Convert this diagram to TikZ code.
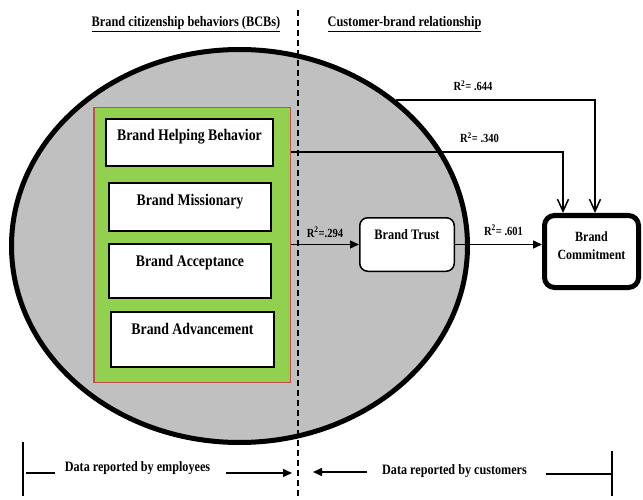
\documentclass[tikz,border=0pt]{standalone}
\usepackage{fontspec}
\setmainfont{Liberation Serif}[FakeStretch=0.85]
\usetikzlibrary{positioning,arrows.meta,shapes.geometric}
\definecolor{ovalgray}{HTML}{C0C0C0}
\definecolor{bcbgreen}{HTML}{92D050}
\definecolor{bcbred}{HTML}{C0504D}

\begin{document}
\begin{tikzpicture}[x=1pt, y=-1pt, >={Triangle[length=9pt,width=8pt]},
  every node/.style={align=center},
  headfont/.style={anchor=base, font=\bfseries\fontsize{14.5}{16}\selectfont},
  bcbbox/.style={draw, line width=2pt, fill=white, inner sep=0pt, text height=22pt,
    anchor=north, font=\bfseries\fontsize{16.2}{18}\selectfont},
  rlabel/.style={anchor=base, font=\bfseries\fontsize{12.4}{14}\selectfont},
  datalabel/.style={anchor=base, font=\bfseries\fontsize{14.3}{16}\selectfont},
  openarrow/.style={-{Straight Barb[length=12pt,width=11pt]}, line width=1.5pt}]
  \useasboundingbox (0,0) rectangle (643,500);
  % headings
  \node[headfont] (bcbhead) at (186,26.8) {\underline{Brand citizenship behaviors (BCBs)}};
  \node[headfont] (cbrhead) at (404.5,26.8) {\underline{Customer-brand relationship}};
  % oval and BCB block
  \node[ellipse, draw, line width=5pt, fill=ovalgray, minimum width=456pt,
        minimum height=393pt, inner sep=0pt] (bcb) at (239.5,246) {};
  \node[draw=bcbred, line width=1.5pt, fill=bcbgreen, minimum width=196.5pt,
        minimum height=274.5pt, inner sep=0pt] (bcbs) at (192,245) {};
  \node[bcbbox, minimum width=167pt, text depth=25pt] (helping) at (189.5,118) {Brand Helping Behavior};
  \node[bcbbox, minimum width=162pt, text depth=26pt] (missionary) at (190,182) {Brand Missionary};
  \node[bcbbox, minimum width=162pt, text depth=32pt] (acceptance) at (190,243) {Brand Acceptance};
  \node[bcbbox, minimum width=163pt, text depth=33pt] (advancement) at (192.5,311) {Brand Advancement};
  % outcomes
  \node[draw, line width=1.5pt, rounded corners=8pt, fill=white, inner sep=0pt,
        minimum width=94.5pt, text height=22.25pt, text depth=31.25pt, anchor=north,
        font=\bfseries\fontsize{14.5}{16}\selectfont] (trust) at (407,217) {Brand Trust};
  \node[draw, line width=5pt, rounded corners=10pt, fill=white, inner sep=0pt,
        minimum width=94pt, text height=26pt, text depth=46pt, anchor=north,
        font=\bfseries\fontsize{14.1}{18}\selectfont] (commit) at (591.5,213)
        {\begin{tabular}[t]{@{}c@{}}Brand\\Commitment\end{tabular}};
  % paths
  \draw[->, line width=1.5pt] (bcbs.east |- trust.west) -- (trust.west);
  \draw[->, line width=1.5pt] (trust.east) -- (commit.west |- trust.east);
  \draw[openarrow] ([yshift=93pt]bcbs.east) -| ([xshift=-28.5pt]commit.north);
  \draw[openarrow] (bcb.43) -| ([xshift=3.5pt]commit.north);
  \node[rlabel] (r644) at (473,91) {R\textsuperscript{2}= .644};
  \node[rlabel] (r340) at (479.5,143) {R\textsuperscript{2}= .340};
  \node[rlabel] (r294) at (325,237) {R\textsuperscript{2}=.294};
  \node[rlabel] (r601) at (503.5,235) {R\textsuperscript{2}= .601};
  % divider
  \coordinate (divtop) at (298,10);
  \coordinate (divbot) at (298,500);
  \draw[line width=1.5pt, dash pattern=on 6pt off 4pt] (divtop) -- (divbot);
  % data sources
  \node[datalabel] (empl) at (137.5,471.7) {Data reported by employees};
  \node[datalabel] (cust) at (454.5,474.7) {Data reported by customers};
  \coordinate (empbartop) at (23,442);
  \coordinate (empbarbot) at (23,496);
  \coordinate (custbartop) at (612,451);
  \coordinate (custbarbot) at (612,496);
  \draw[line width=2pt] (empbartop) -- (empbarbot);
  \draw[line width=2pt] (custbartop) -- (custbarbot);
  \draw[line width=1.5pt] (26,473) -- (55,473);
  \draw[line width=1.5pt] (546,474) -- (custbartop |- 0,474);
  \draw[->, line width=1.5pt] (226,473) -- (292,473);
  \draw[->, line width=1.5pt] (367,472) -- (313,472);
\end{tikzpicture}
\end{document}
